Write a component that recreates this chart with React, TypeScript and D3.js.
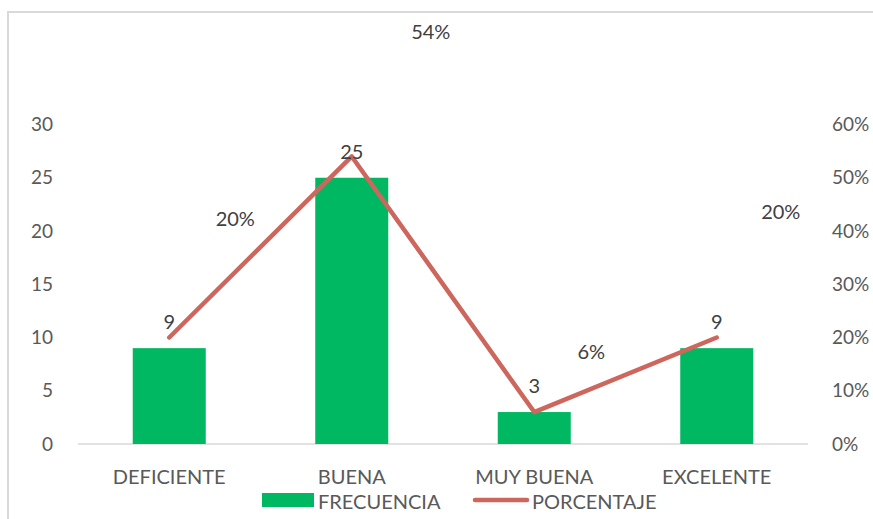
import React from 'react';
import * as d3 from 'd3';

const categories = ['DEFICIENTE', 'BUENA', 'MUY BUENA', 'EXCELENTE'];
const frecuencia = [9, 25, 3, 9];
const porcentaje = [0.2, 0.54, 0.06, 0.2];
const leftTicks = [0, 5, 10, 15, 20, 25, 30];
const rightTicks = [0, 0.1, 0.2, 0.3, 0.4, 0.5, 0.6];
// label nudges for the % labels (Excel had them dragged around)
const pctLabelShift = [
  [66, -119],
  [79, -124],
  [57, -60],
  [64, -126],
];

const W = 873;
const H = 519;
const GREEN = '#00B862';
const RED = '#CD665C';
const TXT = '#595959';
const FONT = 'Lato, "Open Sans", sans-serif';

const App = () => {
  const margin = { top: 124.5, right: 65, bottom: 75, left: 78 };

  const x = d3
    .scaleBand()
    .domain(categories)
    .range([margin.left, W - margin.right])
    .paddingInner(0.6)
    .paddingOuter(0.3);
  const yL = d3.scaleLinear().domain([0, 30]).range([H - margin.bottom, margin.top]);
  const yR = d3.scaleLinear().domain([0, 0.6]).range([H - margin.bottom, margin.top]);

  const cx = (c) => x(c) + x.bandwidth() / 2;
  const line = d3
    .line()
    .x((d, i) => cx(categories[i]))
    .y((d) => yR(d));

  const base = yL(0);

  return (
    <svg
      width={W}
      height={H}
      style={{ position: 'absolute', left: 0, top: 0, background: '#fff' }}
      fontFamily={FONT}
    >
      {/* chart area border */}
      <rect x={8} y={12} width={W + 10} height={H + 10} fill="#fff" stroke="#D9D9D9" strokeWidth={2} />

      {/* baseline */}
      <line x1={margin.left} x2={W - margin.right} y1={base} y2={base} stroke="#D9D9D9" strokeWidth={1.5} />

      {/* left axis */}
      {leftTicks.map((t) => (
        <text key={'l' + t} x={53} y={yL(t)} dy="0.35em" textAnchor="end" fontSize={19} fill={TXT}>
          {t}
        </text>
      ))}
      {/* right axis */}
      {rightTicks.map((t) => (
        <text key={'r' + t} x={832} y={yR(t)} dy="0.35em" textAnchor="start" fontSize={19} fill={TXT}>
          {d3.format('.0%')(t)}
        </text>
      ))}

      {/* bars */}
      {categories.map((c, i) => (
        <rect
          key={c}
          x={x(c)}
          y={yL(frecuencia[i])}
          width={x.bandwidth()}
          height={base - yL(frecuencia[i])}
          fill={GREEN}
        />
      ))}

      {/* line */}
      <path d={line(porcentaje)} fill="none" stroke={RED} strokeWidth={4.5} strokeLinecap="round" strokeLinejoin="round" />

      {/* bar value labels */}
      {categories.map((c, i) => (
        <text key={'v' + c} x={cx(c)} y={yL(frecuencia[i]) - 26} dy="0.35em" textAnchor="middle" fontSize={20} fill="#404040">
          {frecuencia[i]}
        </text>
      ))}

      {/* percent labels */}
      {categories.map((c, i) => (
        <text
          key={'p' + c}
          x={cx(c) + pctLabelShift[i][0]}
          y={yR(porcentaje[i]) + pctLabelShift[i][1]}
          dy="0.35em"
          textAnchor="middle"
          fontSize={20}
          fill="#404040"
        >
          {d3.format('.0%')(porcentaje[i])}
        </text>
      ))}

      {/* category labels */}
      {categories.map((c) => (
        <text key={'c' + c} x={cx(c)} y={484} textAnchor="middle" fontSize={20} fill={TXT}>
          {c}
        </text>
      ))}

      {/* legend */}
      <rect x={262} y={493} width={52} height={14} fill={GREEN} />
      <text x={318} y={509} fontSize={20} fill={TXT}>FRECUENCIA</text>
      <line x1={475} x2={527} y1={500} y2={500} stroke={RED} strokeWidth={4.5} strokeLinecap="round" />
      <text x={532} y={509} fontSize={20} fill={TXT}>PORCENTAJE</text>
    </svg>
  );
};

export default App;
